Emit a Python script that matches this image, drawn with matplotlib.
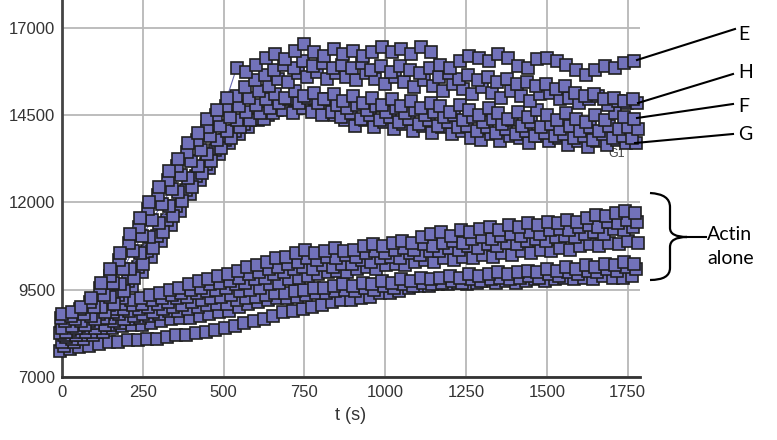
import numpy as np
import matplotlib
matplotlib.use('Agg')
import matplotlib.pyplot as plt
from matplotlib.path import Path
from matplotlib.patches import PathPatch

plt.rcParams['font.family'] = ['Liberation Sans Narrow', 'Liberation Sans', 'DejaVu Sans']

# time points (s), one marker every 30 s; each run is shifted a little in time
t = np.arange(0, 1780, 30)

# upper curves (labelled on the right)
E = [8800, 8850, 9000, 9250, 9700, 10100, 10550, 11100, 11550, 12000,
     12450, 12900, 13250, 13700, 14000, 14400, 14650, 15000, 15850, 15750,
     15950, 16150, 16250, 16100, 16350, 16550, 16300, 16200, 16400, 16250,
     16350, 16200, 16300, 16450, 16300, 16400, 16250, 16450, 16300, 15950,
     15850, 16050, 16200, 16150, 16050, 16250, 16150, 15900, 15850, 16100,
     16150, 16050, 15950, 15800, 15650, 15800, 15900, 15850, 16000, 16050]
H2 = [8700, 8750, 8950, 9150, 9550, 9900, 10350, 10850, 11300, 11800,
      12200, 12650, 13050, 13450, 13800, 14150, 14500, 14750, 15050, 15300,
      15500, 15650, 15800, 15950, 15850, 16050, 15900, 16000, 15850, 15950,
      15850, 16000, 15800, 15900, 15750, 15900, 15800, 15700, 15850, 15600,
      15700, 15550, 15650, 15500, 15600, 15450, 15550, 15400, 15450, 15350,
      15400, 15250, 15350, 15150, 15050, 15100, 14950, 15000, 14900, 14950]
H = [8600, 8650, 8800, 9000, 9350, 9700, 10100, 10600, 11050, 11500,
     11950, 12400, 12800, 13200, 13500, 13900, 14200, 14450, 14750, 15000,
     15200, 15350, 15550, 15450, 15700, 15600, 15750, 15550, 15700, 15600,
     15500, 15700, 15550, 15400, 15600, 15450, 15300, 15500, 15350, 15200,
     15400, 15250, 15100, 15300, 15150, 15000, 15200, 15050, 14900, 15100,
     15150, 14950, 15000, 14850, 14950, 15050, 14800, 14900, 14850, 14850]
F = [8400, 8450, 8600, 8750, 9000, 9300, 9650, 10100, 10550, 11000,
     11400, 11900, 12300, 12700, 13050, 13400, 13800, 14050, 14350, 14600,
     14800, 14950, 15100, 15000, 15200, 15050, 15150, 14950, 15100, 14900,
     15050, 14850, 15000, 14800, 14950, 14750, 14900, 14700, 14850, 14750,
     14600, 14800, 14650, 14500, 14700, 14550, 14400, 14600, 14450, 14650,
     14500, 14350, 14550, 14400, 14300, 14500, 14350, 14550, 14450, 14400]
F2 = [8300, 8400, 8500, 8650, 8850, 9100, 9450, 9850, 10250, 10700,
      11150, 11600, 12050, 12450, 12850, 13200, 13550, 13850, 14150, 14350,
      14550, 14700, 14850, 14950, 14850, 15000, 14850, 14950, 14800, 14700,
      14800, 14650, 14750, 14600, 14700, 14550, 14650, 14500, 14600, 14450,
      14500, 14350, 14450, 14300, 14400, 14250, 14350, 14200, 14300, 14150,
      14250, 14100, 14200, 14050, 14150, 14050, 14200, 14100, 14150, 14100]
G1 = [8250, 8350, 8450, 8600, 8800, 9050, 9350, 9750, 10150, 10600,
      11050, 11500, 11900, 12350, 12750, 13100, 13500, 13800, 14050, 14250,
      14400, 14400, 14550, 14650, 14550, 14700, 14600, 14500, 14600, 14450,
      14550, 14400, 14500, 14350, 14450, 14300, 14400, 14250, 14350, 14200,
      14300, 14150, 14200, 14050, 14150, 14000, 14100, 13950, 14050, 13900,
      14000, 13900, 13950, 13850, 13900, 13800, 13950, 13850, 13900, 13850]
G = [8200, 8300, 8400, 8550, 8700, 8950, 9250, 9600, 10000, 10450,
     10900, 11350, 11750, 12250, 12650, 13000, 13400, 13700, 13950, 14150,
     14350, 14500, 14650, 14800, 14700, 14850, 14650, 14750, 14500, 14350,
     14200, 14350, 14150, 14300, 14100, 14250, 14050, 14200, 14000, 14150,
     13950, 14050, 13850, 13800, 13950, 13750, 13900, 13850, 13700, 13900,
     13750, 13850, 13650, 13750, 13600, 13750, 13650, 13800, 13700, 13700]

# actin alone curves
A1 = [8600, 8650, 8700, 8850, 8950, 9000, 9100, 9200, 9250, 9350,
      9400, 9500, 9550, 9650, 9750, 9800, 9900, 9950, 10050, 10150,
      10200, 10300, 10400, 10450, 10550, 10650, 10550, 10600, 10700, 10600,
      10650, 10750, 10800, 10750, 10850, 10900, 10850, 11000, 11100, 11150,
      11050, 11200, 11150, 11250, 11300, 11200, 11350, 11300, 11400, 11350,
      11450, 11400, 11500, 11450, 11550, 11650, 11600, 11700, 11750, 11700]
A5 = [8450, 8500, 8600, 8700, 8800, 8850, 8950, 9050, 9100, 9200,
      9250, 9350, 9400, 9500, 9550, 9650, 9700, 9750, 9850, 9950,
      10000, 10100, 10150, 10250, 10300, 10400, 10350, 10450, 10400, 10500,
      10450, 10550, 10600, 10550, 10650, 10700, 10650, 10800, 10750, 10850,
      10900, 10850, 10950, 11000, 10950, 11050, 11100, 11050, 11150, 11100,
      11200, 11250, 11200, 11300, 11350, 11300, 11450, 11400, 11500, 11450]
A2 = [8300, 8350, 8450, 8550, 8650, 8700, 8800, 8900, 8950, 9000,
      9100, 9150, 9250, 9300, 9400, 9450, 9500, 9550, 9650, 9700,
      9800, 9850, 9950, 10000, 10100, 10150, 10100, 10200, 10150, 10250,
      10250, 10350, 10300, 10400, 10450, 10400, 10550, 10500, 10600, 10600,
      10700, 10650, 10750, 10700, 10800, 10750, 10850, 10800, 10900, 10950,
      10900, 11000, 11050, 11000, 11100, 11150, 11100, 11250, 11200, 11300]
A6 = [8150, 8200, 8300, 8400, 8500, 8600, 8650, 8750, 8800, 8850,
      8950, 9000, 9050, 9150, 9200, 9250, 9300, 9350, 9450, 9500,
      9550, 9650, 9700, 9800, 9850, 9900, 9950, 10000, 10050, 10000,
      10100, 10150, 10100, 10200, 10250, 10200, 10300, 10350, 10300, 10400,
      10350, 10450, 10400, 10500, 10450, 10550, 10500, 10600, 10550, 10650,
      10600, 10700, 10650, 10750, 10800, 10750, 10850, 10800, 10900, 10850]
A3 = [8000, 8100, 8200, 8300, 8400, 8500, 8550, 8650, 8700, 8750,
      8800, 8900, 8900, 8950, 9000, 9050, 9100, 9100, 9200, 9250,
      9300, 9350, 9400, 9400, 9450, 9500, 9550, 9550, 9600, 9650,
      9600, 9700, 9650, 9750, 9700, 9800, 9750, 9850, 9800, 9850,
      9900, 9850, 9950, 9900, 9950, 10000, 9950, 10000, 10050, 10000,
      10100, 10050, 10150, 10100, 10200, 10150, 10250, 10200, 10300, 10250]
A7 = [7900, 8000, 8100, 8200, 8300, 8400, 8450, 8500, 8500, 8550,
      8600, 8650, 8700, 8700, 8750, 8800, 8850, 8900, 9000, 9100,
      9150, 9200, 9250, 9250, 9300, 9350, 9400, 9400, 9450, 9500,
      9450, 9550, 9500, 9600, 9550, 9650, 9600, 9700, 9650, 9700,
      9750, 9700, 9800, 9750, 9800, 9850, 9800, 9850, 9900, 9850,
      9950, 9900, 10000, 9950, 10050, 10000, 10100, 10050, 10150, 10100]
A4 = [7750, 7800, 7850, 7900, 7950, 8000, 8000, 8050, 8050, 8100,
      8100, 8150, 8200, 8200, 8250, 8300, 8350, 8400, 8450, 8550,
      8600, 8650, 8750, 8850, 8900, 8950, 9000, 9050, 9150, 9200,
      9200, 9250, 9300, 9400, 9400, 9450, 9550, 9600, 9600, 9650,
      9650, 9700, 9650, 9700, 9750, 9700, 9750, 9700, 9750, 9800,
      9750, 9800, 9850, 9800, 9850, 9800, 9900, 9850, 9850, 9900]

runs = [A4, A7, A3, A6, A2, A5, A1, G, G1, F2, F, H, H2, E]
shifts = [-6, 6, 0, 12, -3, 9, 3, 6, -6, 12, 0, 9, -3, 0]

xticks = [0, 250, 500, 750, 1000, 1250, 1500, 1750]
yticks = [7000, 9500, 12000, 14500, 17000]

fig = plt.figure(figsize=(7.77, 4.40), dpi=100)
ax = fig.add_axes([62/777, 1 - 377/440, (640 - 62)/777, 377/440])

for s, dt in zip(runs, shifts):
    ax.plot(t + dt, s, color='#6a6ab0', lw=0.8, marker='s', ms=8.5,
            mfc='#7272ba', mec='#202020', mew=1.2, clip_on=False, zorder=3)

ax.set_xlim(0, 1788)
ax.set_ylim(7000, 17800)
ax.set_xticks(xticks)
ax.set_yticks(yticks)
ax.grid(True, color='#b8b8b8', lw=1.3)
ax.set_axisbelow(True)
ax.tick_params(length=0, labelsize=12, colors='#333333')
ax.tick_params(axis='y', pad=5)
ax.tick_params(axis='x', pad=6)
for side in ['top', 'right']:
    ax.spines[side].set_visible(False)
ax.spines['left'].set_color('#444444')
ax.spines['left'].set_linewidth(2)
ax.spines['bottom'].set_color('#333333')
ax.spines['bottom'].set_linewidth(2)
ax.set_xlabel('t (s)', fontsize=13, color='#333333', family=['Liberation Sans', 'DejaVu Sans'],
              labelpad=5)

ax.text(1690, 13550, 'G1', fontsize=9, color='#444444', zorder=2, va='top',
        family=['Liberation Sans', 'DejaVu Sans'])

# overlay in pixel coordinates for the labels and brace
ov = fig.add_axes([0, 0, 1, 1])
ov.set_xlim(0, 777)
ov.set_ylim(440, 0)
ov.axis('off')

lab_font = ['Lato', 'DejaVu Sans']
leaders = [('E', (637, 60), (735, 29), 35),
           ('H', (638, 103), (733, 74), 73),
           ('F', (637, 118), (733, 104), 107),
           ('G', (635, 143), (733, 134), 135)]
for name, p0, p1, ly in leaders:
    ov.plot([p0[0], p1[0]], [p0[1], p1[1]], color='black', lw=1.5)
    ov.text(738, ly, name, fontsize=14, family=lab_font, va='center', ha='left')

verts = [(650, 193), (670, 194), (670, 207), (670, 228), (670, 237), (687, 237),
         (670, 237), (670, 247), (670, 268), (670, 280), (650, 280)]
codes = [Path.MOVETO, Path.CURVE3, Path.CURVE3, Path.LINETO, Path.CURVE3, Path.CURVE3,
         Path.CURVE3, Path.CURVE3, Path.LINETO, Path.CURVE3, Path.CURVE3]
ov.add_patch(PathPatch(Path(verts, codes), fc='none', ec='black', lw=1.6))
ov.plot([687, 706], [237, 237], color='black', lw=1.5)
ov.text(707, 234, 'Actin', fontsize=14, family=lab_font, va='center', ha='left')
ov.text(707, 259, 'alone', fontsize=14, family=lab_font, va='center', ha='left')

fig.savefig('out.png', dpi=100)
